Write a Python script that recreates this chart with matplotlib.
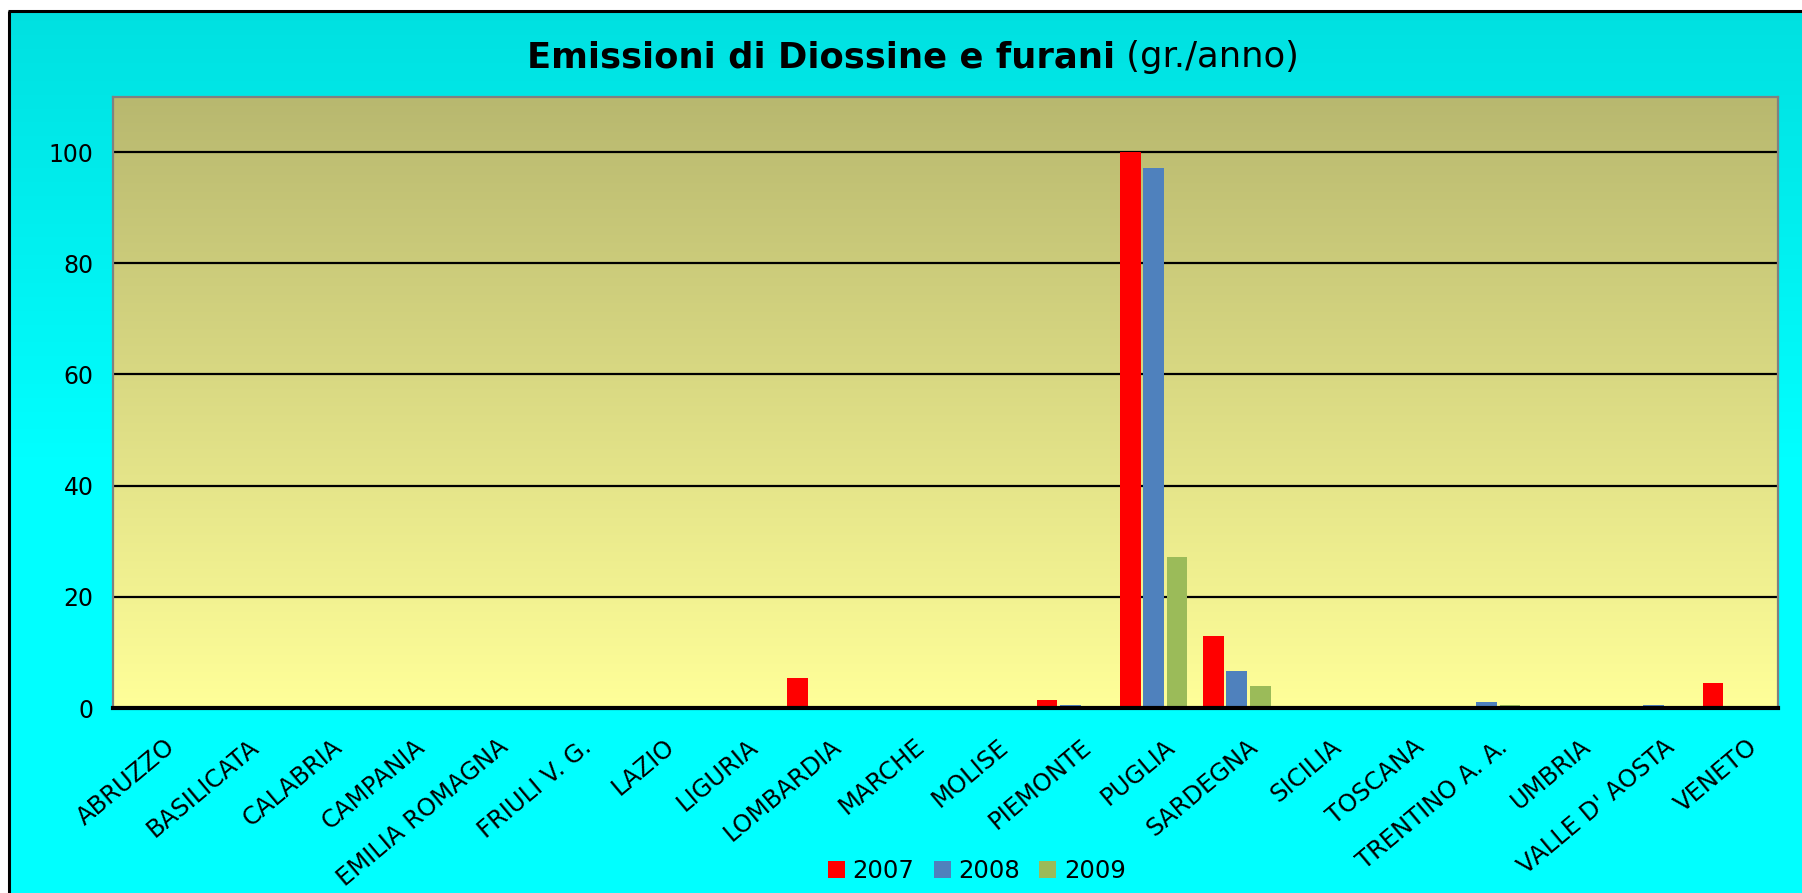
import numpy as np
import matplotlib
matplotlib.use("Agg")
import matplotlib.pyplot as plt
from matplotlib.colors import LinearSegmentedColormap
from matplotlib.transforms import ScaledTranslation

regions = ["ABRUZZO", "BASILICATA", "CALABRIA", "CAMPANIA", "EMILIA ROMAGNA",
           "FRIULI V. G.", "LAZIO", "LIGURIA", "LOMBARDIA", "MARCHE", "MOLISE",
           "PIEMONTE", "PUGLIA", "SARDEGNA", "SICILIA", "TOSCANA",
           "TRENTINO A. A.", "UMBRIA", "VALLE D' AOSTA", "VENETO"]
years = ["2007", "2008", "2009"]
em_2007 = [0, 0, 0, 0, 0, 0, 0, 0, 5.4, 0, 0, 1.4, 100, 12.9, 0, 0, 0, 0, 0, 4.5]
em_2008 = [0, 0, 0, 0, 0, 0, 0, 0, 0, 0, 0, 0.5, 97.2, 6.6, 0, 0, 1.0, 0, 0.55, 0]
em_2009 = [0, 0, 0, 0, 0, 0, 0, 0, 0, 0, 0, 0, 27.2, 4.0, 0, 0, 0.55, 0, 0, 0]
series = [em_2007, em_2008, em_2009]
colors = ["#FF0000", "#4F81BD", "#9BBB59"]

W, H = 1802, 893
fig = plt.figure(figsize=(W / 100, H / 100), dpi=100, facecolor="white")

# background: cyan gradient, frame only on the left and top edges
bg = fig.add_axes([0, 0, 1, 1], zorder=-10)
bg.axis("off")
cyan = LinearSegmentedColormap.from_list("cy", [(0, 0.88, 0.88), (0, 1, 1), (0, 1, 1)])
grad = np.linspace(0, 1, 256).reshape(-1, 1)
bg.imshow(grad, cmap=cyan, extent=(9, W + 10, H + 10, 11), aspect="auto")
bg.set_xlim(0, W)
bg.set_ylim(H, 0)
bg.plot([9, 9], [H + 10, 11], color="black", lw=2.2, solid_capstyle="butt")
bg.plot([8, W + 10], [11, 11], color="black", lw=2.2, solid_capstyle="butt")

# plot area
left, right, top, bottom = 113, 1778, 96.5, 708
ax = fig.add_axes([left / W, 1 - bottom / H, (right - left) / W, (bottom - top) / H])
ax.set_facecolor("none")
khaki = LinearSegmentedColormap.from_list("kh", ["#FFFF99", "#B8B86F"])
ax.imshow(grad, cmap=khaki, origin="lower", extent=(-0.5, 19.5, 0, 110),
          aspect="auto", zorder=0)

x = np.arange(len(regions))
width = 0.25
offsets = [-0.28, 0, 0.28]
for vals, off, col, yr in zip(series, offsets, colors, years):
    ax.bar(x + off, vals, width, color=col, label=yr, zorder=2)

ax.set_xlim(-0.5, 19.5)
ax.set_ylim(0, 110)
ax.set_yticks([0, 20, 40, 60, 80, 100])
ax.yaxis.grid(True, color="black", lw=1.6, zorder=1)
ax.set_axisbelow(True)

for side in ["top", "left", "right"]:
    ax.spines[side].set_color("#808080")
    ax.spines[side].set_linewidth(1.6)
ax.spines["bottom"].set_color("black")
ax.spines["bottom"].set_linewidth(3)

ax.tick_params(axis="both", length=0)
ax.tick_params(axis="y", pad=14, labelsize=17)
ax.set_xticks(x)
ax.set_xticklabels(regions, fontsize=17.5, rotation=40, ha="right", va="top",
                   rotation_mode="anchor")
ax.tick_params(axis="x", pad=19)
shift = ScaledTranslation(10 / 100, 0, fig.dpi_scale_trans)
for lab in ax.get_xticklabels():
    lab.set_transform(lab.get_transform() + shift)

# title: bold part plus normal unit
t1 = fig.text(0, 0, "Emissioni di Diossine e furani", fontsize=25.5, fontweight="bold")
t2 = fig.text(0, 0, " (gr./anno)", fontsize=25.5)
fig.canvas.draw()
r = fig.canvas.get_renderer()
w1 = t1.get_window_extent(r).width
w2 = t2.get_window_extent(r).width
x0 = 913 - (w1 + w2) / 2
ty = 1 - 57 / H
t1.set_position((x0 / W, ty))
t1.set_va("center")
t2.set_position(((x0 + w1) / W, ty))
t2.set_va("center")

fig.legend(loc="center", bbox_to_anchor=(977 / W, 1 - 871 / H), ncol=3,
           frameon=False, fontsize=17.5, handlelength=0.7, handleheight=0.7,
           handletextpad=0.3, columnspacing=0.8)

fig.savefig("out.png", dpi=100, facecolor="white")
